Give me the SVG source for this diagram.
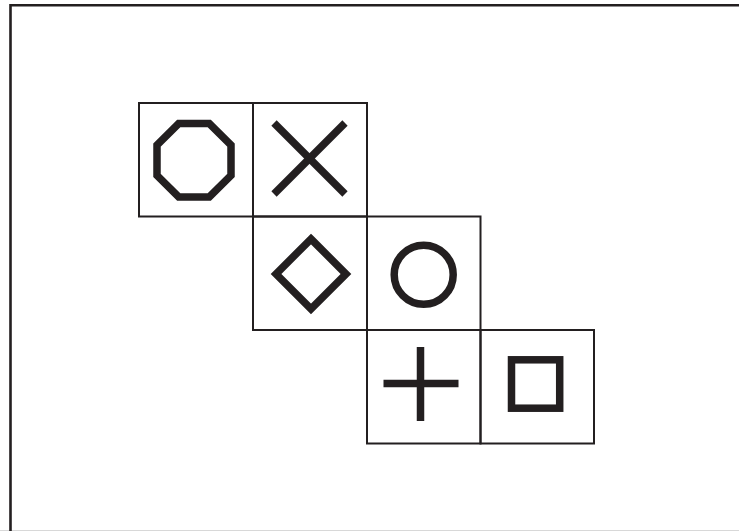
<svg xmlns="http://www.w3.org/2000/svg" width="739" height="531" viewBox="0 0 739 531">
  <style>
    .cell { fill: none; stroke: #231f20; stroke-width: 2; }
    .sym { fill: none; stroke: #231f20; stroke-width: 7.5; }
  </style>
  <rect width="739" height="531" fill="#ffffff"/>
  <line x1="0" y1="530.5" x2="739" y2="530.5" stroke="#d8d8d8" stroke-width="1"/>
  <path d="M10.5 540 V5.2 H750" fill="none" stroke="#231f20" stroke-width="2.6"/>
  <g id="cell-octagon">
    <rect class="cell" x="139" y="103" width="114" height="113.5"/>
    <polygon class="sym" points="178.7,123.5 209.3,123.5 231,145 231,175.5 209.3,197 178.7,197 157,175.5 157,145"/>
  </g>
  <g id="cell-x">
    <rect class="cell" x="253" y="103" width="114" height="113.5"/>
    <line class="sym" x1="274" y1="123" x2="345" y2="194" stroke-width="7"/>
    <line class="sym" x1="345" y1="123" x2="274" y2="194" stroke-width="7"/>
  </g>
  <g id="cell-diamond">
    <rect class="cell" x="253" y="216.5" width="114" height="113.5"/>
    <polygon class="sym" points="311,239 346,274 311,309 276,274"/>
  </g>
  <g id="cell-circle">
    <rect class="cell" x="367" y="216.5" width="113.5" height="113.5"/>
    <circle class="sym" cx="423.7" cy="274.7" r="29.5"/>
  </g>
  <g id="cell-plus">
    <rect class="cell" x="367" y="330" width="113.5" height="113.5"/>
    <line class="sym" x1="420.5" y1="347" x2="420.5" y2="421" stroke-width="8.5"/>
    <line class="sym" x1="383.5" y1="383.5" x2="458.5" y2="383.5" stroke-width="8.5"/>
  </g>
  <g id="cell-square">
    <rect class="cell" x="480.5" y="330" width="113.5" height="113.5"/>
    <rect class="sym" x="511.5" y="359.8" width="48.2" height="48.4"/>
  </g>
  <g id="connectors"/>
</svg>
